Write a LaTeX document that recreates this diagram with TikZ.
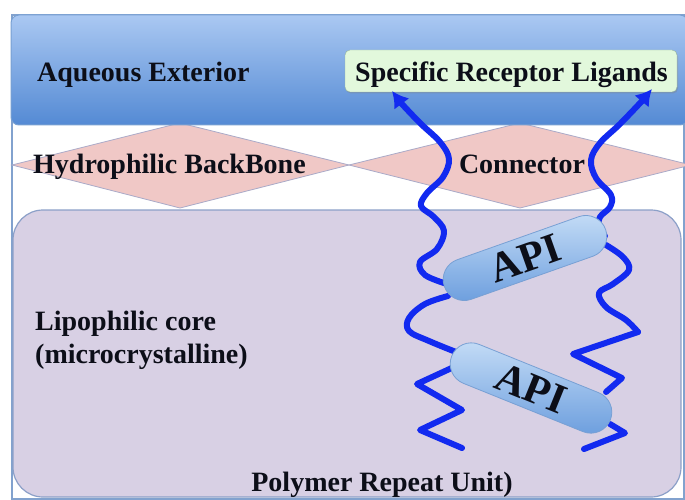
\documentclass[tikz,border=0pt]{standalone}
\usepackage{fontspec}
\setmainfont{Liberation Serif}
\usetikzlibrary{arrows.meta,shapes.misc,shadows}
\definecolor{chainblue}{RGB}{18,42,240}
\definecolor{blueT}{RGB}{170,200,242}
\definecolor{blueB}{RGB}{84,138,212}
\definecolor{blueE}{RGB}{120,160,210}
\definecolor{frameC}{RGB}{130,162,206}
\definecolor{ligF}{RGB}{226,248,220}
\definecolor{ligE}{RGB}{150,180,160}
\definecolor{lavF}{RGB}{216,208,228}
\definecolor{lavE}{RGB}{140,160,200}
\definecolor{diaF}{RGB}{240,200,198}
\definecolor{diaE}{RGB}{170,170,200}
\definecolor{pillT}{RGB}{196,220,246}
\definecolor{pillB}{RGB}{108,158,222}
\definecolor{pillE}{RGB}{120,160,212}
\definecolor{txt}{RGB}{12,14,24}
\begin{document}
\begin{tikzpicture}[x=1pt,y=-1pt,
  lbl/.style={font=\fontsize{28}{33}\selectfont\bfseries, text=txt, inner sep=0pt},
  dia/.style={fill=diaF, draw=diaE, line width=0.8pt},
  chainline/.style={draw=chainblue, line width=6pt, line join=round, line cap=round},
  chainarrow/.style={chainline, -{Latex[length=16pt,width=19pt]}},
  pill/.style={rounded rectangle, minimum width=171pt, minimum height=42pt,
    top color=pillT, bottom color=pillB, draw=pillE, line width=0.8pt,
    font=\fontsize{42}{46}\selectfont\bfseries, text=txt, inner sep=0pt}]
\useasboundingbox (0,0) rectangle (685,500);
\fill[white] (0,0) rectangle (685,500);
% outer frame
\draw[frameC, line width=2pt] (12,15) rectangle (684,499);
% diamonds
\draw[dia] (12,165) -- (180,123) -- (349,165) -- (180,208) -- cycle;
\draw[dia] (349,165) -- (520,123) -- (691,165) -- (520,208) -- cycle;
% aqueous exterior band
\shade[top color=blueT, bottom color=blueB, draw=blueE, line width=1pt, rounded corners=8pt] (11,15) rectangle (688,125);
% ligand box
\node[draw=ligE, fill=ligF, rounded corners=5pt, minimum width=332pt, minimum height=42pt,
  drop shadow={shadow xshift=1pt, shadow yshift=-1.5pt, opacity=0.35}] (lig) at (511,71) {};
% lipophilic core
\draw[fill=lavF, draw=lavE, line width=1.2pt, rounded corners=30pt] (13,210) rectangle (681,497);
% arrow targets below the ligand box
\coordinate (lt) at (392,91);
\coordinate (rt) at (652,89);
% chains
\draw[chainline] plot[smooth, tension=0.6] coordinates {(401,103) (420,123) (440,142) (449,159) (443,177) (427,193) (421,206) (434,217) (444,231) (437,249) (420,262) (425,275) (447,284)};
\draw[chainarrow] (401,103) -- (lt);
\draw[chainline] plot[smooth, tension=0.6] coordinates {(642,101) (620,124) (600,143) (591,160) (596,178) (611,195) (610,207) (600,217) (599,228) (605,236)};
\draw[chainarrow] (642,101) -- (rt);
\draw[chainline] plot[smooth, tension=0.6] coordinates {(448,296) (425,304) (409,318) (409,331) (429,341) (456,352)};
\draw[chainline] plot[smooth, tension=0.6] coordinates {(606,245) (623,257) (629,270) (613,284) (599,293) (606,307) (626,320) (638,332)};
\draw[chainline] (638,332) -- (573,354) -- (622,378) -- (606,392);
\draw[chainline] (456,366) -- (417,384) -- (462,410) -- (420,430) -- (462,448);
\draw[chainline] (610,424) -- (625,433) -- (584,449);
% API pills
\node[pill, rotate=19.5] (p1) at (525,258) {API};
\node[pill, rotate=-22] (p2) at (531,388) {API};
% labels
\node[lbl, anchor=base west] (aq) at (37,82) {Aqueous Exterior};
\node[lbl, anchor=base] (ligt) at (511.5,82) {Specific Receptor Ligands};
\node[lbl, anchor=base west] (hb) at (33,173) {Hydrophilic BackBone};
\node[lbl, anchor=base] (con) at (522,173) {Connector};
\node[lbl, anchor=base west] (lc1) at (35,330) {Lipophilic core};
\node[lbl, anchor=base west] (lc2) at (35,363) {(microcrystalline)};
\node[lbl, anchor=base] (pru) at (382,491) {Polymer Repeat Unit)};
\end{tikzpicture}
\end{document}
